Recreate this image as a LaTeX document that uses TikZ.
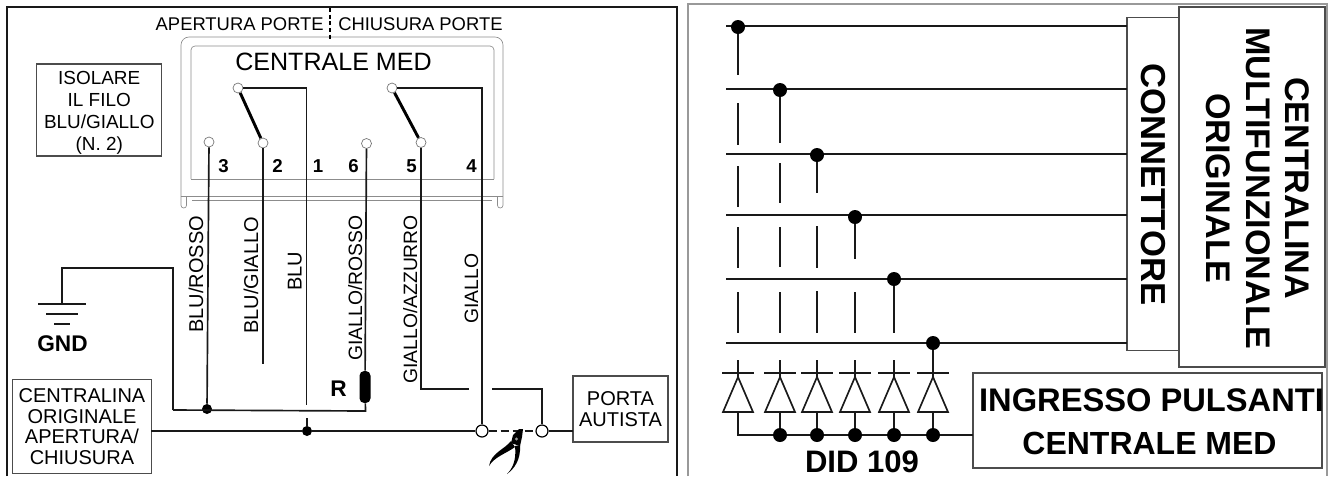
\documentclass[tikz,border=0pt]{standalone}
\usepackage{fontspec}
\setmainfont{Liberation Sans}
\usetikzlibrary{positioning}
\tikzset{wire/.style={line width=1.25pt, draw=black!90},
    thinshell/.style={line width=0.5pt, draw=black!45},
    boxg/.style={draw=black!70, line width=0.8pt, fill=white, inner sep=0pt, outer sep=0pt, align=center},
    termc/.style={circle, draw=black!55, line width=0.5pt, fill=white, inner sep=0pt, minimum size=7.5pt},
    cutc/.style={circle, draw=black, line width=0.9pt, fill=white, inner sep=0pt, minimum size=9pt},
    dotj/.style={circle, fill=black, inner sep=0pt, minimum size=7.5pt},
    dotb/.style={circle, fill=black, inner sep=0pt, minimum size=10.5pt},
    wlab/.style={rotate=90, anchor=base west, inner sep=0pt, font=\fontsize{14.5}{16}\selectfont},
    wlabb/.style={wlab, font=\fontsize{15}{16}\selectfont},
    numb/.style={anchor=base west, inner sep=0pt, font=\fontsize{14}{16}\selectfont\bfseries},
    bigb/.style={inner sep=0pt, align=center, font=\fontsize{25.6}{29.6}\selectfont\bfseries}}
\newcommand{\diodo}[2]{
    \coordinate (k#1) at (#2,360);
    \coordinate (a#1) at (#2,412);
    \draw[wire] (#2-16,373) -- (#2+16,373);
    \draw[wire] (k#1) -- (#2,377);
    \draw[wire] (#2,377) -- (#2+15,412) -- (#2-15,412) -- cycle;
}
\begin{document}
\begin{tikzpicture}[x=0.75pt, y=-0.75pt]
    \useasboundingbox (0,0) rectangle (1330,476);
    % cornici
    \draw[wire] (7,476) -- (7,7) -- (677,7) -- (677,476);
    \draw[line width=0.8pt, draw=black!40] (688,476) -- (688,4) -- (1327,4) -- (1327,476);

    % centrale med
    \draw[thinshell, rounded corners=6pt] (181,196) -- (181,37) -- (503,37) -- (503,196);
    \draw[thinshell, rounded corners=3pt] (191,179) -- (191,46) -- (494,46) -- (494,179);
    \draw[thinshell] (191,179) -- (494,179) (181,196) -- (503,196) (192,200) -- (492,200);
    \draw[thinshell, rounded corners=2pt] (181,196) -- (181,208) -- (186.5,208) -- (186.5,196);
    \draw[thinshell, rounded corners=2pt] (497.5,196) -- (497.5,208) -- (503,208) -- (503,196);
    \draw[line width=0.8pt, densely dashed] (330,8) -- (330,40);
    \node[anchor=base east, inner sep=0pt, font=\fontsize{13.8}{16}\selectfont] (apert) at (324,30) {APERTURA PORTE};
    \node[anchor=base west, inner sep=0pt, font=\fontsize{13.8}{16}\selectfont] (chius) at (338,30) {CHIUSURA PORTE};
    \node[anchor=base, inner sep=0pt, font=\fontsize{18.8}{20}\selectfont] (cmed) at (333.5,70) {CENTRALE MED};
    \node[boxg, minimum width=94pt, minimum height=69pt] (isol) at (99.25,110) {};
    \node[inner sep=0pt, align=center, font=\fontsize{14.2}{16.5}\selectfont] (isolt) at (99.25,113)
        {ISOLARE\\IL FILO\\BLU/GIALLO\\(N. 2)};

    % contatti
    \node[termc] (ta) at (238,88) {};
    \node[termc] (tb) at (392,88) {};
    \node[termc] (t3) at (209,142) {};
    \node[termc] (t2) at (263,143) {};
    \node[termc] (t6) at (366.5,143.5) {};
    \node[termc] (t5) at (421,142.5) {};
    \draw[line width=2.2pt] (ta) -- (t2);
    \draw[line width=2.2pt] (tb) -- (t5);
    \node[numb] (n3) at (218,172) {3};
    \node[numb] (n2) at (272,172) {2};
    \node[numb] (n1) at (312.5,172) {1};
    \node[numb] (n6) at (348,172) {6};
    \node[numb] (n5) at (406,172) {5};
    \node[numb] (n4) at (466,172) {4};

    % fili
    \node[dotj] (j3) at (207,409) {};
    \node[dotj] (j1) at (307,431) {};
    \node[cutc] (cl) at (482,431) {};
    \node[cutc] (cr) at (542,431) {};
    \node[rectangle, rounded corners=3.5pt, fill=black, inner sep=0pt, minimum width=8.25pt, minimum height=24pt] (rr) at (365,387) {};
    \coordinate (w2e) at (263,364);
    \coordinate (w1e) at (306.5,405);
    \coordinate (w1b) at (307,418);
    \coordinate (w5e) at (469,389);
    \coordinate (w5s) at (492,389);
    \coordinate (rb) at (365.5,411);
    \coordinate (gmid) at (173,410);
    \coordinate (gtop) at (62,268);
    \coordinate (g1) at (62,304);
    \draw[wire] (t3) -- (j3);
    \draw[wire] (t2) -- (w2e);
    \draw[wire] (ta) -| (w1e);
    \draw[wire] (w1b) -- (j1);
    \draw[wire] (t6) -- (rr);
    \draw[wire] (rr) -- (rb) -- (gmid);
    \draw[wire] (g1) -- (gtop) -| (gmid);
    \draw[wire] (t5) |- (w5e);
    \draw[wire] (w5s) -| (cr);
    \draw[wire] (tb) -| (cl);
    \node[wlabb] (lb3) at (203,333) {BLU/ROSSO};
    \node[wlabb] (lb2) at (258,334) {BLU/GIALLO};
    \node[wlabb] (lb1) at (301.5,291) {BLU};
    \node[wlab] (lb6) at (362,361) {GIALLO/ROSSO};
    \node[wlab] (lb5) at (417,384) {GIALLO/AZZURRO};
    \node[wlab] (lb4) at (478,324) {GIALLO};
    \node[anchor=base west, inner sep=0pt, font=\fontsize{17}{18}\selectfont\bfseries] (rlab) at (330,396) {R};

    % massa
    \draw[wire] (38,304) -- (86,304);
    \draw[wire] (46,314) -- (78,314);
    \draw[wire] (54,324) -- (70,324);
    \node[anchor=base, inner sep=0pt, font=\fontsize{17}{18}\selectfont\bfseries] (gnd) at (62.5,351) {GND};

    % linea porte
    \node[boxg, minimum width=104pt, minimum height=70pt, font=\fontsize{15}{15.5}\selectfont] (corig) at (82,426.5)
        {CENTRALINA\\ORIGINALE\\APERTURA/\\CHIUSURA};
    \node[boxg, minimum width=71.25pt, minimum height=49.5pt, font=\fontsize{15}{15.75}\selectfont] (porta) at (620.5,409)
        {PORTA\\AUTISTA};
    \draw[wire] (j1 -| corig.east) -- (j1);
    \draw[wire] (j1) -- (cl);
    \draw[wire, dash pattern=on 6pt off 3pt] (cl) -- (cr);
    \draw[wire] (cr) -- (cr -| porta.west);

    % pinza
    \fill (511,441) .. controls (505,449) and (491,453) .. (489,466) .. controls (494,457) and (507,453) .. (515,447) -- cycle;
    \fill (515,446) .. controls (516,456) and (515,466) .. (507,474) .. controls (514,469) and (521,460) .. (520,445) -- cycle;
    \fill (511,443) -- (513,435) -- (519,429) -- (523,429) -- (522,437) -- (520,446) -- cycle;
    \fill[black!40] (516.5,439) circle (1.2pt);

    % pannello destro
    \node[boxg, rotate=-90, minimum width=270pt, minimum height=109.5pt] (cmf) at (1252,187) {};
    \node[boxg, rotate=-90, minimum width=250pt, minimum height=39pt, font=\fontsize{26}{29.6}\selectfont\bfseries] (conn) at (1153,184.25) {CONNETTORE};
    \node[bigb, rotate=-90] (cmft) at (1258,188) {CENTRALINA\\MULTIFUNZIONALE\\ORIGINALE};
    \node[boxg, minimum width=261.75pt, minimum height=71.25pt] (ing) at (1147.5,420.5) {};
    \node[anchor=base, inner sep=0pt, font=\fontsize{24.5}{26}\selectfont\bfseries] (ing1) at (1151.5,411) {INGRESSO PULSANTI};
    \node[anchor=base, inner sep=0pt, font=\fontsize{24}{26}\selectfont\bfseries] (ing2) at (1149.5,454) {CENTRALE MED};
    \node[anchor=base, inner sep=0pt, font=\fontsize{23.3}{25}\selectfont\bfseries] (did) at (862,472) {DID 109};

    % linee e derivazioni
    \coordinate (l1) at (726,26);
    \coordinate (l2) at (726,89);
    \coordinate (l3) at (726,154);
    \coordinate (l4) at (726,215);
    \coordinate (l5) at (726,279);
    \coordinate (l6) at (726,343);
    \draw[wire] (l1) -- (l1 -| conn.south);
    \draw[wire] (l2) -- (l2 -| conn.south);
    \draw[wire] (l3) -- (l3 -| conn.south);
    \draw[wire] (l4) -- (l4 -| conn.south);
    \draw[wire] (l5) -- (l5 -| conn.south);
    \draw[wire] (l6) -- (l6 -| conn.south);
    \node[dotb] (p1) at (738,27) {};
    \node[dotb] (p2) at (780,90) {};
    \node[dotb] (p3) at (817,155) {};
    \node[dotb] (p4) at (855,217) {};
    \node[dotb] (p5) at (894,279) {};
    \node[dotb] (p6) at (933,343) {};
    \draw[wire] (p1) -- (738,75) (738,103) -- (738,145) (738,166) -- (738,207) (738,227) -- (738,268) (738,292) -- (738,333);
    \draw[wire] (p2) -- (780,143) (780,163) -- (780,203) (780,227) -- (780,267) (780,292) -- (780,333);
    \draw[wire] (p3) -- (817,193) (817,226) -- (817,268) (817,291) -- (817,333);
    \draw[wire] (p4) -- (855,259) (855,292) -- (855,333);
    \draw[wire] (p5) -- (894,333);

    % diodi
    \diodo{1}{738}
    \diodo{2}{780}
    \diodo{3}{817}
    \diodo{4}{855}
    \diodo{5}{894}
    \diodo{6}{933}
    \draw[wire] (p6) -- (k6);
    \node[dotb] (b2) at (780,435) {};
    \node[dotb] (b3) at (817,435) {};
    \node[dotb] (b4) at (855,435) {};
    \node[dotb] (b5) at (894,435) {};
    \node[dotb] (b6) at (933,435) {};
    \draw[wire] (a1) |- (b2);
    \draw[wire] (a2) -- (b2);
    \draw[wire] (a3) -- (b3);
    \draw[wire] (a4) -- (b4);
    \draw[wire] (a5) -- (b5);
    \draw[wire] (a6) -- (b6);
    \draw[wire] (b2) -- (b3) -- (b4) -- (b5) -- (b6) -- (b6 -| ing.west);
\end{tikzpicture}
\end{document}
